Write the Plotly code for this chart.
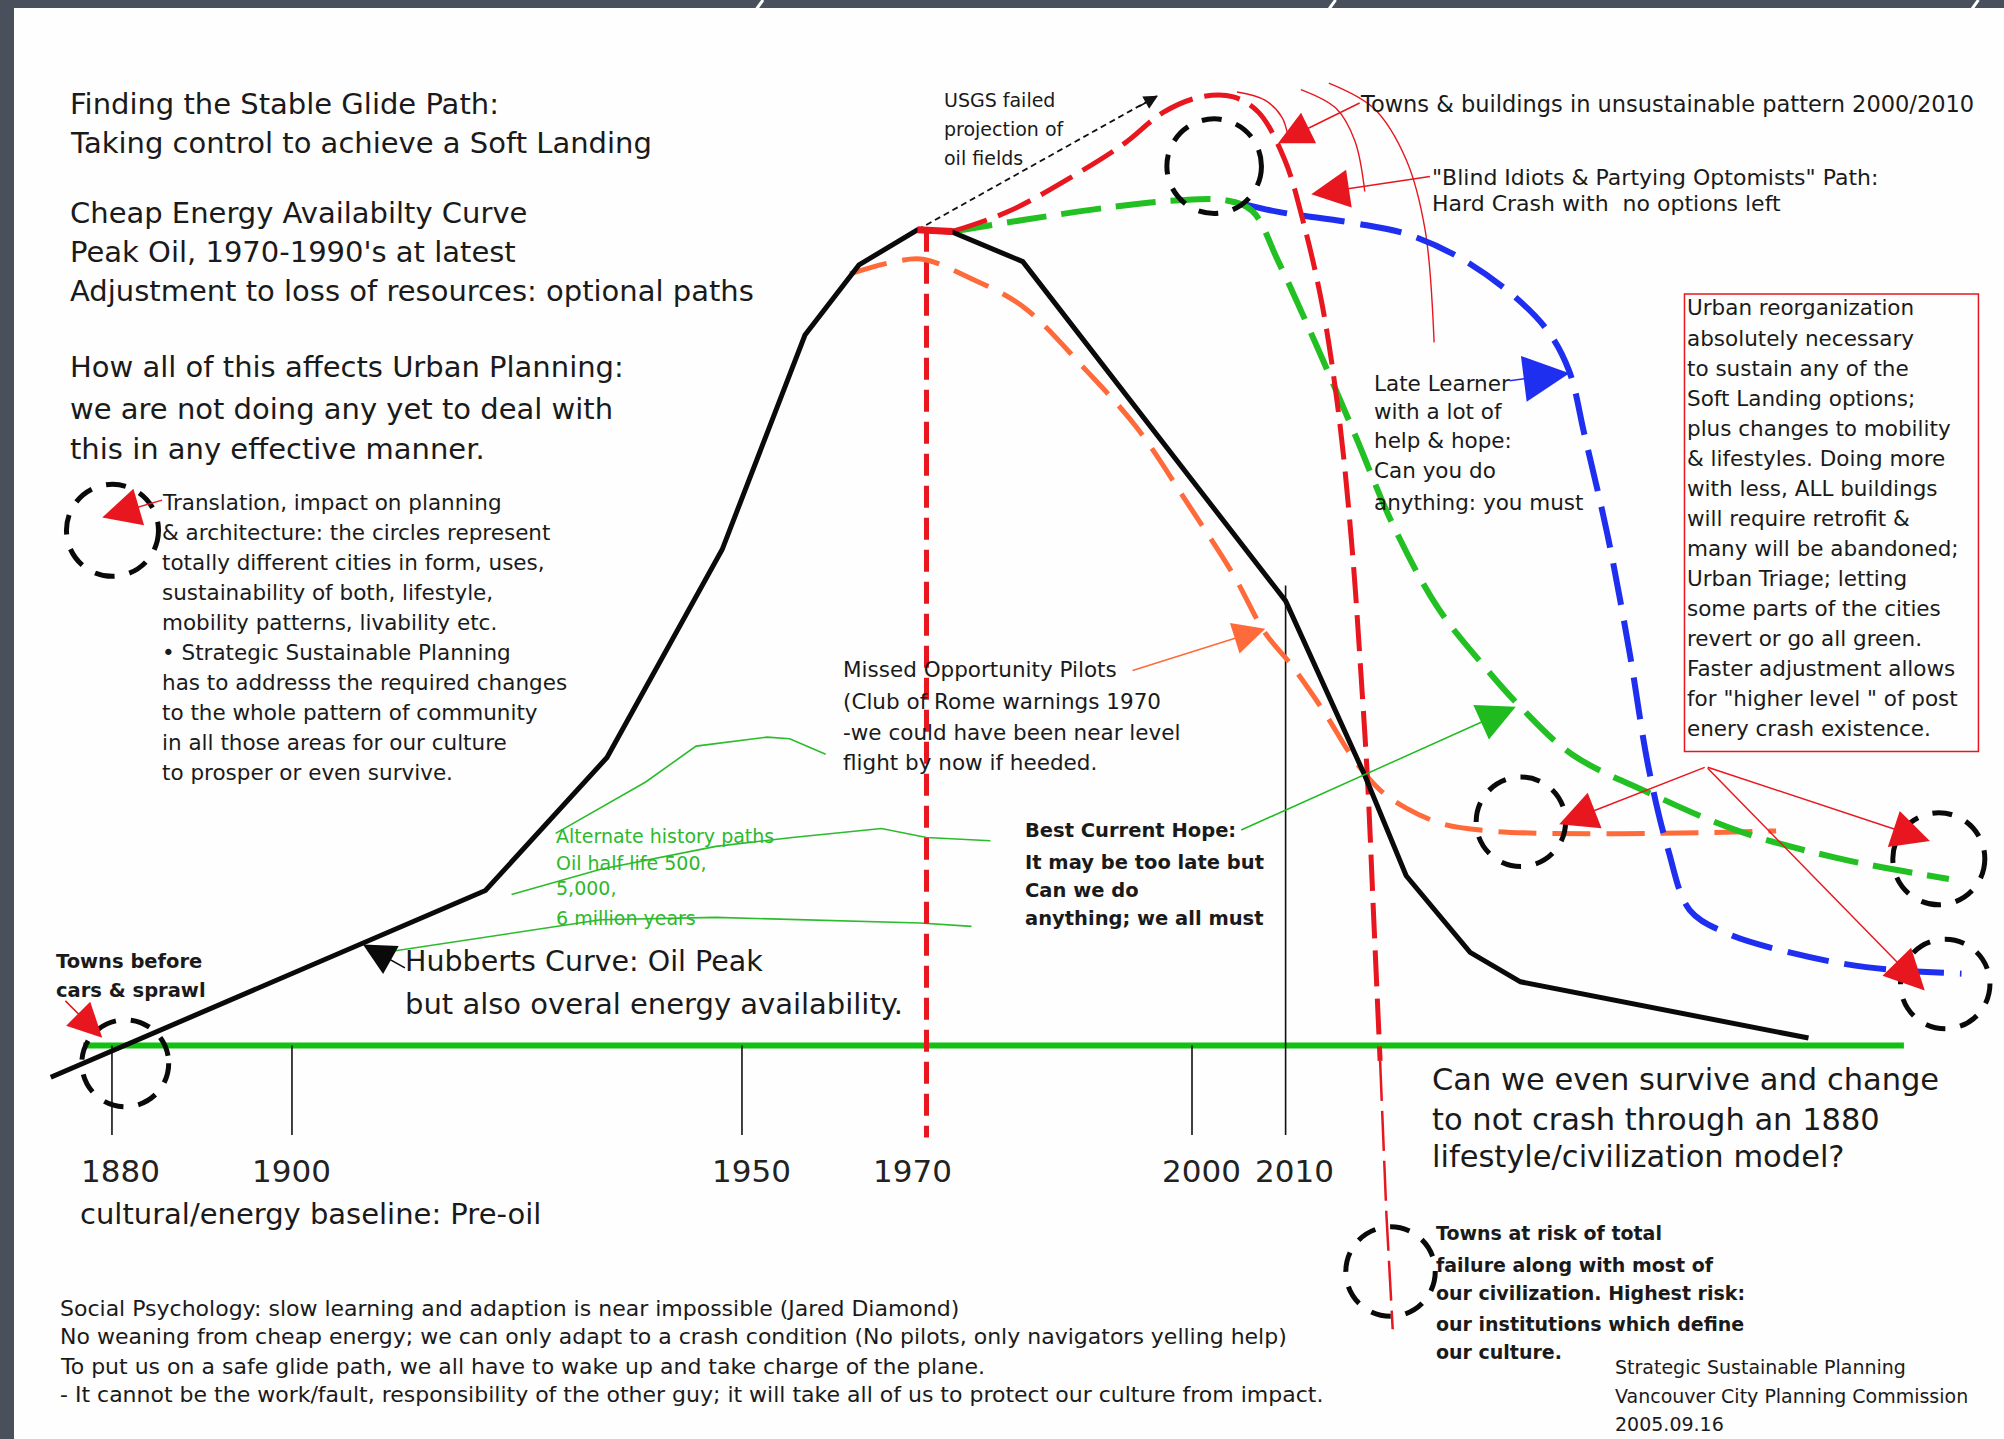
import plotly.graph_objects as go

# ---------------- data: year vs relative cheap-energy availability (peak = 100) ----------------
hubbert_year = [1873.2, 1921.5, 1935.0, 1947.8, 1957.0, 1963.0, 1969.5, 1973.4, 1981.2, 2010.4, 2019.2, 2023.8, 2030.9, 2036.5, 2068.5]
hubbert_level = [-3.9, 19.0, 35.3, 60.8, 87.1, 95.7, 100.0, 99.7, 96.1, 54.5, 33.1, 20.8, 11.4, 7.8, 0.9]

crash_year = [1973.4, 1979.7, 1986.8, 1992.5, 1996.8, 2001.0, 2004.6, 2007.4, 2010.3, 2012.4, 2014.5, 2016.4, 2017.8, 2018.8, 2019.5, 2020.2, 2020.9]
crash_level = [99.8, 102.3, 106.6, 110.6, 114.4, 116.3, 116.3, 114.4, 108.6, 100.8, 90.6, 76.5, 60.8, 45.1, 32.6, 15.4, -1.9]
crash_below_year = [2020.9, 2021.6, 2022.3]
crash_below_level = [-1.9, -20.7, -34.8]

glide_year = [1973.4, 1981.2, 1991.1, 1998.2, 2003.9, 2006.7, 2009.6, 2013.8, 2018.1, 2022.3, 2027.3, 2032.3, 2036.5, 2042.2, 2050.7, 2060.7, 2072.0, 2084.1]
glide_level = [99.8, 101.2, 102.8, 103.6, 103.6, 102.3, 96.1, 85.9, 74.9, 63.9, 53.7, 46.7, 41.5, 35.7, 31.0, 26.3, 22.9, 20.4]

late_year = [2006.0, 2009.6, 2018.1, 2023.8, 2029.4, 2035.1, 2039.4, 2041.9, 2043.6, 2046.2, 2048.6, 2050.7, 2052.9, 2055.3, 2059.3, 2066.4, 2074.9, 2085.5]
late_level = [103.1, 102.2, 100.8, 99.5, 96.8, 92.5, 87.8, 82.7, 74.9, 62.4, 48.3, 34.2, 24.0, 16.6, 13.8, 11.4, 9.6, 8.8]

missed_year = [1962.0, 1967.0, 1970.1, 1975.5, 1981.2, 1988.3, 1993.9, 1999.6, 2004.6, 2008.1, 2011.0, 2014.5, 2018.1, 2020.9, 2023.8, 2028.0, 2033.0, 2039.4, 2052.2, 2064.9]
missed_level = [94.6, 96.1, 96.4, 94.0, 90.6, 82.7, 75.7, 66.3, 57.7, 50.6, 46.7, 41.2, 34.9, 31.3, 29.1, 27.1, 26.3, 26.0, 26.0, 26.3]

peak_flat_year = [1969.5, 1973.4]
peak_flat_level = [100.0, 99.8]

usgs_year = [1969.5, 1996.1]
usgs_level = [100.0, 116.4]

alt1_year = [1929.3, 1939.3, 1944.9, 1952.8, 1955.3, 1959.3]
alt1_level = [26.0, 32.3, 36.7, 37.8, 37.6, 35.7]
alt2_year = [1924.4, 1934.3, 1947.1, 1955.6, 1965.5, 1970.5, 1977.6]
alt2_level = [18.5, 21.6, 24.4, 25.5, 26.6, 25.5, 25.1]
alt3_year = [1910.2, 1924.4, 1934.3, 1947.1, 1969.8, 1975.5]
alt3_level = [11.4, 13.8, 15.4, 15.7, 15.0, 14.6]

arcA_year = [2005.0, 2008.1, 2010.0, 2010.7]
arcA_level = [116.9, 115.9, 113.8, 111.3]
arcB_year = [2012.1, 2016.0, 2018.1, 2019.2]
arcB_level = [117.2, 114.9, 110.9, 104.7]
arcC_year = [2015.2, 2020.2, 2023.8, 2025.9, 2026.9]
arcC_level = [118.0, 114.9, 108.6, 100.0, 86.2]

baseline_year = [1876.8, 2079.1]
tick_years = [1880, 1900, 1950, 2000]
tick_labels = ["1880", "1900", "1950", "1970", "2000", "2010"]
tick_label_years = [1881.0, 1899.9, 1951.1, 1968.9, 2001.0, 2011.4]
marker_1970 = 1970.5
marker_2010 = 2010.4
tick_bottom = -11.0
marker_2010_top = 56.4

# ---------------- geometry helpers ----------------
W, H = 2004, 1439
SW, SH = 1568.0, 1126.0          # sketch grid used for layout placement
S = W / SW
XR = [1867.56, 2090.22]
YR = [-48.26, 128.18]


def P(sx, sy):
    return sx / SW, 1 - sy / SH


FONT = "DejaVu Sans"
RED = "#e8161e"
BLUE = "#1f2ff0"
ORANGE = "#ff6a3a"

fig = go.Figure()


def line(x, y, color, width, dash="solid", shape="linear"):
    fig.add_trace(go.Scatter(x=x, y=y, mode="lines", hoverinfo="skip",
                             line=dict(color=color, width=width, dash=dash, shape=shape)))


# baseline and ticks
line(baseline_year, [0, 0], "#11c011", 6)
for ty in tick_years:
    line([ty, ty], [0, tick_bottom], "#111", 1.6)
line([marker_2010, marker_2010], [marker_2010_top, tick_bottom], "#111", 1.6)

# alternate history paths
for ax_, ay_ in [(alt1_year, alt1_level), (alt2_year, alt2_level), (alt3_year, alt3_level)]:
    line(ax_, ay_, "#2bbb2b", 1.6)

# thin red arcs
for ax_, ay_ in [(arcA_year, arcA_level), (arcB_year, arcB_level), (arcC_year, arcC_level)]:
    line(ax_, ay_, RED, 1.4, shape="spline")

# 1970 marker
line([marker_1970, marker_1970], [100.0, -11.3], RED, 5, dash="22px,10px")

# curves
line(missed_year, missed_level, ORANGE, 5, dash="38px,16px", shape="spline")
line(late_year, late_level, BLUE, 6, dash="42px,16px", shape="spline")
line(glide_year, glide_level, "#22c022", 6, dash="40px,15px", shape="spline")
line(crash_year, crash_level, RED, 5, dash="36px,12px", shape="spline")
line(crash_below_year, crash_below_level, RED, 2.5, dash="40px,10px")
line(usgs_year, usgs_level, "#111", 1.8, dash="6px,4px")
line(hubbert_year, hubbert_level, "#0a0a0a", 5)
line(peak_flat_year, peak_flat_level, RED, 7)

# ---------------- shapes ----------------
shapes = []
# frame
shapes.append(dict(type="rect", xref="paper", yref="paper", x0=0, x1=14 / W, y0=0, y1=1,
                   fillcolor="#4a4f5c", line=dict(width=0)))
shapes.append(dict(type="rect", xref="paper", yref="paper", x0=0, x1=1, y0=1 - 8 / H, y1=1,
                   fillcolor="#4a4f5c", line=dict(width=0)))
for cx in [597, 1045, 1548]:
    x0, y0 = P(cx, 0)
    x1, y1 = P(cx - 5, 7)
    shapes.append(dict(type="line", xref="paper", yref="paper", x0=x0, y0=y0, x1=x1, y1=y1,
                       line=dict(color="#ffffff", width=3)))

# dashed circles
circles = [(950, 130, 37), (88, 415, 36), (98, 832, 34), (1190, 643, 35),
           (1517, 672, 36), (1522, 770, 35), (1088, 995, 35)]
for cx, cy, r in circles:
    x0, y1 = P(cx - r, cy - r)
    x1, y0 = P(cx + r, cy + r)
    shapes.append(dict(type="circle", xref="paper", yref="paper", x0=x0, x1=x1, y0=y0, y1=y1,
                       line=dict(color="#0a0a0a", width=5, dash="20px,15px")))

# red info box
bx0, by1 = P(1318, 230)
bx1, by0 = P(1548, 588)
shapes.append(dict(type="rect", xref="paper", yref="paper", x0=bx0, x1=bx1, y0=by0, y1=by1,
                   line=dict(color=RED, width=1.5), fillcolor="rgba(0,0,0,0)"))

# ---------------- annotations ----------------
ann = []


def text(sx, sy, s, size, color="#1a1a1a", bold=False, anchor="left"):
    x, y = P(sx, sy)
    if bold:
        s = "<b>" + s + "</b>"
    ann.append(dict(x=x, y=y, xref="paper", yref="paper", text=s, showarrow=False,
                    xanchor=anchor, yanchor="middle", borderpad=0,
                    font=dict(family=FONT, size=size, color=color)))


def arrow(tail, head, color, head_px, width=1.5):
    hx, hy = P(*head)
    ann.append(dict(x=hx, y=hy, xref="paper", yref="paper", text="",
                    ax=(tail[0] - head[0]) * S, ay=(tail[1] - head[1]) * S,
                    showarrow=True, arrowhead=2, arrowsize=head_px / (5 * width),
                    arrowwidth=width, arrowcolor=color, standoff=0))


title_lines = [(81, "Finding the Stable Glide Path:"),
               (112, "Taking control to achieve a Soft Landing"),
               (167, "Cheap Energy Availabilty Curve"),
               (197, "Peak Oil, 1970-1990's at latest"),
               (228, "Adjustment to loss of resources: optional paths"),
               (287, "How all of this affects Urban Planning:"),
               (320, "we are not doing any yet to deal with"),
               (351, "this in any effective manner.")]
for sy, s in title_lines:
    text(54, sy, s, 29)

trans = ["Translation, impact on planning",
         "& architecture: the circles represent",
         "totally different cities in form, uses,",
         "sustainability of both, lifestyle,",
         "mobility patterns, livability etc.",
         "\u2022 Strategic Sustainable Planning",
         "has to addresss the required changes",
         "to the whole pattern of community",
         "in all those areas for our culture",
         "to prosper or even survive."]
for i, s in enumerate(trans):
    text(126, 393 + i * 23.5, s.replace("&", "&amp;"), 21.5)

for i, s in enumerate(["Alternate history paths", "Oil half life 500,", "5,000,", "6 million years"]):
    text(434, [654, 675, 695, 718][i], s, 19, color="#2db82d")

text(316, 752, "Hubberts Curve: Oil Peak", 28.5)
text(316, 786, "but also overal energy availability.", 29)
text(43, 752, "Towns before", 19.5, bold=True)
text(43, 775, "cars &amp; sprawl", 19.5, bold=True)

for s, yx in zip(tick_labels, tick_label_years):
    sx = (yx - 1867.56) / 0.142
    text(sx, 916, s, 31, color="#222", anchor="center")
text(62, 950, "cultural/energy baseline: Pre-oil", 29)

bottom = ["Social Psychology: slow learning and adaption is near impossible (Jared Diamond)",
          "No weaning from cheap energy; we can only adapt to a crash condition (No pilots, only navigators yelling help)",
          "To put us on a safe glide path, we all have to wake up and take charge of the plane.",
          "- It cannot be the work/fault, responsibility of the other guy; it will take all of us to protect our culture from impact."]
for i, s in enumerate(bottom):
    text(46, [1024, 1046, 1069, 1091][i], s, 22)

for i, s in enumerate(["USGS failed", "projection of", "oil fields"]):
    text(738, 78 + i * 23, s, 19)

text(1063, 81, "Towns &amp; buildings in unsustainable pattern 2000/2010", 22.5)
text(1120, 139, "\"Blind Idiots &amp; Partying Optomists\" Path:", 22)
text(1120, 159, "Hard Crash with  no options left", 22)

for i, s in enumerate(["Late Learner", "with a lot of", "help &amp; hope:", "Can you do", "anything: you must"]):
    text(1074, [300, 322, 345, 368, 393][i], s, 21.5)

box = ["Urban reorganization", "absolutely necessary", "to sustain any of the",
       "Soft Landing options;", "plus changes to mobility", "&amp; lifestyles. Doing more",
       "with less, ALL buildings", "will require retrofit &amp;", "many will be abandoned;",
       "Urban Triage; letting", "some parts of the cities", "revert or go all green.",
       "Faster adjustment allows", "for \"higher level \" of post", "enery crash existence."]
for i, s in enumerate(box):
    text(1319, 241 + i * 23.5, s, 21.5)

for i, s in enumerate(["Missed Opportunity Pilots", "(Club of Rome warnings 1970",
                       "-we could have been near level", "flight by now if heeded."]):
    text(659, [524, 549, 573, 597][i], s, 21.5)

for i, s in enumerate(["Best Current Hope:", "It may be too late but", "Can we do", "anything; we all must"]):
    text(801, [650, 675, 697, 719][i], s, 19.5, bold=True)

for i, s in enumerate(["Can we even survive and change", "to not crash through an 1880",
                       "lifestyle/civilization model?"]):
    text(1120, [845, 876, 905][i], s, 30.5)

for i, s in enumerate(["Towns at risk of total", "failure along with most of",
                       "our civilization. Highest risk:", "our institutions which define", "our culture."]):
    text(1123, [965, 990, 1012, 1036, 1058][i], s, 19, bold=True)

for i, s in enumerate(["Strategic Sustainable Planning", "Vancouver City Planning Commission", "2005.09.16"]):
    text(1263, [1070, 1092, 1114][i], s, 19)

# arrows
arrow((1065, 80), (1000, 112), RED, 34)
arrow((1120, 138), (1026, 152), RED, 38)
arrow((1335, 600), (1220, 645), RED, 38)
arrow((1335, 600), (1510, 658), RED, 38)
arrow((1335, 600), (1506, 775), RED, 40)
arrow((128, 391), (80, 405), RED, 38)
arrow((50, 782), (80, 812), RED, 34)
arrow((1180, 298), (1228, 292), BLUE, 46)
arrow((970, 650), (1186, 553), "#1fbb1f", 38)
arrow((885, 525), (990, 492), ORANGE, 32)
arrow((318, 758), (284, 739), "#0a0a0a", 32)
arrow((890, 84), (906, 75), "#111", 14)

fig.update_layout(
    width=W, height=H, margin=dict(l=0, r=0, t=0, b=0),
    paper_bgcolor="#ffffff", plot_bgcolor="#fefefe",
    showlegend=False,
    xaxis=dict(range=XR, visible=False, fixedrange=True),
    yaxis=dict(range=YR, visible=False, fixedrange=True),
    shapes=shapes, annotations=ann,
)

fig.write_html("out.html", config={"displayModeBar": False},
               post_script="document.body.style.margin='0px';document.body.style.overflow='hidden';")
